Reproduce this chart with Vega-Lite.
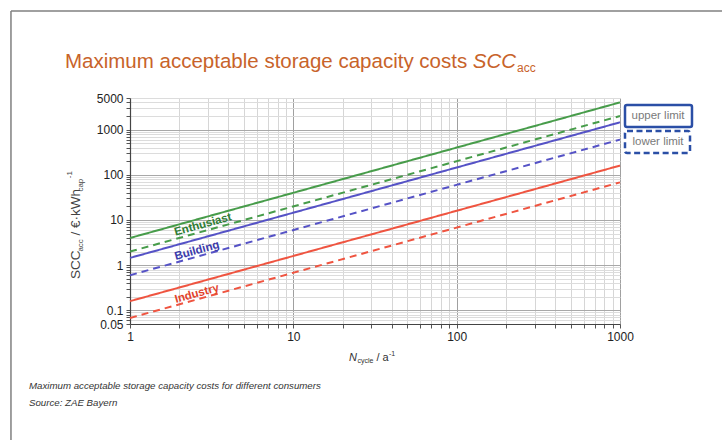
{
  "$schema": "https://vega.github.io/schema/vega-lite/v6.json",
  "width": 490,
  "height": 226,
  "autosize": {"type": "none"},
  "padding": {"left": 130, "top": 98, "right": 102, "bottom": 116},
  "background": "white",
  "config": {"font": "Liberation Sans", "view": {"stroke": null}},
  "datasets": {
    "lines": [
      {"consumer": "Enthusiast", "limit": "upper limit", "N": 1, "SCC": 4},
      {"consumer": "Enthusiast", "limit": "upper limit", "N": 1000, "SCC": 4000},
      {"consumer": "Enthusiast", "limit": "lower limit", "N": 1, "SCC": 2},
      {"consumer": "Enthusiast", "limit": "lower limit", "N": 1000, "SCC": 2000},
      {"consumer": "Building", "limit": "upper limit", "N": 1, "SCC": 1.45},
      {"consumer": "Building", "limit": "upper limit", "N": 1000, "SCC": 1450},
      {"consumer": "Building", "limit": "lower limit", "N": 1, "SCC": 0.6},
      {"consumer": "Building", "limit": "lower limit", "N": 1000, "SCC": 600},
      {"consumer": "Industry", "limit": "upper limit", "N": 1, "SCC": 0.16},
      {"consumer": "Industry", "limit": "upper limit", "N": 1000, "SCC": 160},
      {"consumer": "Industry", "limit": "lower limit", "N": 1, "SCC": 0.068},
      {"consumer": "Industry", "limit": "lower limit", "N": 1000, "SCC": 68}
    ]
  },
  "layer": [
    {
      "data": {"name": "lines"},
      "mark": {"type": "line", "strokeWidth": 2},
      "encoding": {
        "x": {
          "field": "N", "type": "quantitative",
          "scale": {"type": "log", "domain": [1, 1000], "nice": false},
          "axis": {
            "title": null,
            "values": [1,2,3,4,5,6,7,8,9,10,20,30,40,50,60,70,80,90,100,200,300,400,500,600,700,800,900,1000],
            "labelExpr": "(datum.value == 1 || datum.value == 10 || datum.value == 100 || datum.value == 1000) ? datum.value + '' : ''",
            "labelFlush": false, "labelOverlap": false,
            "labelFont": "Liberation Sans", "labelFontSize": 12, "labelColor": "#222222", "labelPadding": 3,
            "grid": true,
            "gridColor": {"condition": {"test": "datum.value == 1 || datum.value == 10 || datum.value == 100 || datum.value == 1000", "value": "#a0a0a0"}, "value": "#d6d6d6"},
            "tickSize": 4, "tickColor": "#555555", "domainColor": "#444444", "domainWidth": 1.2
          }
        },
        "y": {
          "field": "SCC", "type": "quantitative",
          "scale": {"type": "log", "domain": [0.05, 5000], "nice": false},
          "axis": {
            "title": null,
            "values": [0.05,0.06,0.07,0.08,0.09,0.1,0.2,0.3,0.4,0.5,0.6,0.7,0.8,0.9,1,2,3,4,5,6,7,8,9,10,20,30,40,50,60,70,80,90,100,200,300,400,500,600,700,800,900,1000,2000,3000,4000,5000],
            "labelExpr": "(datum.value == 0.05 || datum.value == 0.1 || datum.value == 1 || datum.value == 10 || datum.value == 100 || datum.value == 1000 || datum.value == 5000) ? datum.value + '' : ''",
            "labelFlush": false, "labelOverlap": false,
            "labelFont": "Liberation Sans", "labelFontSize": 12, "labelColor": "#222222", "labelPadding": 3,
            "grid": true,
            "gridColor": {"condition": {"test": "datum.value == 0.1 || datum.value == 1 || datum.value == 10 || datum.value == 100 || datum.value == 1000", "value": "#a8a8a8"}, "value": "#dcdcdc"},
            "tickSize": 4, "tickColor": "#555555", "domainColor": "#444444", "domainWidth": 1.2
          }
        },
        "color": {
          "field": "consumer", "type": "nominal",
          "scale": {"domain": ["Enthusiast", "Building", "Industry"], "range": ["#479c4a", "#5552c6", "#ef5440"]},
          "legend": null
        },
        "strokeDash": {
          "field": "limit", "type": "nominal",
          "scale": {"domain": ["upper limit", "lower limit"], "range": [[1, 0], [7, 5]]},
          "legend": null
        }
      }
    },
    {
      "data": {"values": [{}]},
      "mark": {"type": "rule", "stroke": "#808080", "strokeWidth": 1.5, "clip": false},
      "encoding": {
        "x": {"datum": 0.18673, "type": "quantitative", "scale": {"type": "log", "domain": [1, 1000], "nice": false}},
        "x2": {"datum": 4212},
        "y": {"datum": 420600, "type": "quantitative", "scale": {"type": "log", "domain": [0.05, 5000], "nice": false}}
      }
    },
    {
      "data": {"values": [{}]},
      "mark": {"type": "rule", "stroke": "#808080", "strokeWidth": 1.5, "clip": false},
      "encoding": {
        "x": {"datum": 0.18673, "type": "quantitative", "scale": {"type": "log", "domain": [1, 1000], "nice": false}},
        "y": {"datum": 420600, "type": "quantitative", "scale": {"type": "log", "domain": [0.05, 5000], "nice": false}},
        "y2": {"datum": 0.0001357}
      }
    },
    {
      "data": {"values": [{}]},
      "mark": {"type": "text", "text": "Maximum acceptable storage capacity costs", "font": "Liberation Sans", "fontSize": 20.5, "color": "#c8632a", "align": "left", "baseline": "alphabetic", "clip": false},
      "encoding": {
        "x": {"datum": 0.4, "type": "quantitative", "scale": {"type": "log", "domain": [1, 1000], "nice": false}},
        "y": {"datum": 23050, "type": "quantitative", "scale": {"type": "log", "domain": [0.05, 5000], "nice": false}}
      }
    },
    {
      "data": {"values": [{}]},
      "mark": {"type": "text", "text": "SCC", "font": "Liberation Sans", "fontSize": 20.5, "fontStyle": "italic", "color": "#c8632a", "align": "left", "baseline": "alphabetic", "clip": false},
      "encoding": {
        "x": {"datum": 125.4, "type": "quantitative", "scale": {"type": "log", "domain": [1, 1000], "nice": false}},
        "y": {"datum": 23050, "type": "quantitative", "scale": {"type": "log", "domain": [0.05, 5000], "nice": false}}
      }
    },
    {
      "data": {"values": [{}]},
      "mark": {"type": "text", "text": "acc", "font": "Liberation Sans", "fontSize": 12, "color": "#c8632a", "align": "left", "baseline": "alphabetic", "clip": false},
      "encoding": {
        "x": {"datum": 234.1, "type": "quantitative", "scale": {"type": "log", "domain": [1, 1000], "nice": false}},
        "y": {"datum": 18800, "type": "quantitative", "scale": {"type": "log", "domain": [0.05, 5000], "nice": false}}
      }
    },
    {
      "data": {"values": [{}]},
      "mark": {"type": "text", "text": "Enthusiast", "font": "Liberation Sans", "fontSize": 11.5, "fontWeight": "bold", "color": "#2f7d34", "angle": 344.5, "align": "center", "baseline": "middle"},
      "encoding": {
        "x": {"datum": 2.798, "type": "quantitative", "scale": {"type": "log", "domain": [1, 1000], "nice": false}},
        "y": {"datum": 7.75, "type": "quantitative", "scale": {"type": "log", "domain": [0.05, 5000], "nice": false}}
      }
    },
    {
      "data": {"values": [{}]},
      "mark": {"type": "text", "text": "Building", "font": "Liberation Sans", "fontSize": 11.5, "fontWeight": "bold", "color": "#3b3bab", "angle": 344.5, "align": "center", "baseline": "middle"},
      "encoding": {
        "x": {"datum": 2.572, "type": "quantitative", "scale": {"type": "log", "domain": [1, 1000], "nice": false}},
        "y": {"datum": 2.061, "type": "quantitative", "scale": {"type": "log", "domain": [0.05, 5000], "nice": false}}
      }
    },
    {
      "data": {"values": [{}]},
      "mark": {"type": "text", "text": "Industry", "font": "Liberation Sans", "fontSize": 11.5, "fontWeight": "bold", "color": "#e2432c", "angle": 344.5, "align": "center", "baseline": "middle"},
      "encoding": {
        "x": {"datum": 2.572, "type": "quantitative", "scale": {"type": "log", "domain": [1, 1000], "nice": false}},
        "y": {"datum": 0.2306, "type": "quantitative", "scale": {"type": "log", "domain": [0.05, 5000], "nice": false}}
      }
    },
    {
      "data": {"values": [{}]},
      "mark": {"type": "text", "text": "SCC", "font": "Liberation Sans", "fontSize": 13.5, "color": "#444444", "angle": 270, "align": "left", "baseline": "alphabetic", "clip": false},
      "encoding": {
        "x": {"datum": 0.4943, "type": "quantitative", "scale": {"type": "log", "domain": [1, 1000], "nice": false}},
        "y": {"datum": 0.4951, "type": "quantitative", "scale": {"type": "log", "domain": [0.05, 5000], "nice": false}}
      }
    },
    {
      "data": {"values": [{}]},
      "mark": {"type": "text", "text": "acc", "font": "Liberation Sans", "fontSize": 8, "color": "#444444", "angle": 270, "align": "left", "baseline": "alphabetic", "clip": false},
      "encoding": {
        "x": {"datum": 0.5158, "type": "quantitative", "scale": {"type": "log", "domain": [1, 1000], "nice": false}},
        "y": {"datum": 1.9985, "type": "quantitative", "scale": {"type": "log", "domain": [0.05, 5000], "nice": false}}
      }
    },
    {
      "data": {"values": [{}]},
      "mark": {"type": "text", "text": "/ €·kWh", "font": "Liberation Sans", "fontSize": 13.5, "color": "#444444", "angle": 270, "align": "left", "baseline": "alphabetic", "clip": false},
      "encoding": {
        "x": {"datum": 0.4943, "type": "quantitative", "scale": {"type": "log", "domain": [1, 1000], "nice": false}},
        "y": {"datum": 4.515, "type": "quantitative", "scale": {"type": "log", "domain": [0.05, 5000], "nice": false}}
      }
    },
    {
      "data": {"values": [{}]},
      "mark": {"type": "text", "text": "cap", "font": "Liberation Sans", "fontSize": 8, "color": "#444444", "angle": 270, "align": "left", "baseline": "alphabetic", "clip": false},
      "encoding": {
        "x": {"datum": 0.5158, "type": "quantitative", "scale": {"type": "log", "domain": [1, 1000], "nice": false}},
        "y": {"datum": 42.48, "type": "quantitative", "scale": {"type": "log", "domain": [0.05, 5000], "nice": false}}
      }
    },
    {
      "data": {"values": [{}]},
      "mark": {"type": "text", "text": "-1", "font": "Liberation Sans", "fontSize": 8, "color": "#444444", "angle": 270, "align": "left", "baseline": "alphabetic", "clip": false},
      "encoding": {
        "x": {"datum": 0.4415, "type": "quantitative", "scale": {"type": "log", "domain": [1, 1000], "nice": false}},
        "y": {"datum": 84.06, "type": "quantitative", "scale": {"type": "log", "domain": [0.05, 5000], "nice": false}}
      }
    },
    {
      "data": {"values": [{}]},
      "mark": {"type": "text", "text": "N", "font": "Liberation Sans", "fontSize": 11, "fontStyle": "italic", "color": "#333333", "align": "left", "baseline": "alphabetic", "clip": false},
      "encoding": {
        "x": {"datum": 21.92, "type": "quantitative", "scale": {"type": "log", "domain": [1, 1000], "nice": false}},
        "y": {"datum": 0.007595, "type": "quantitative", "scale": {"type": "log", "domain": [0.05, 5000], "nice": false}}
      }
    },
    {
      "data": {"values": [{}]},
      "mark": {"type": "text", "text": "cycle", "font": "Liberation Sans", "fontSize": 7, "color": "#333333", "align": "left", "baseline": "alphabetic", "clip": false},
      "encoding": {
        "x": {"datum": 24.71, "type": "quantitative", "scale": {"type": "log", "domain": [1, 1000], "nice": false}},
        "y": {"datum": 0.006686, "type": "quantitative", "scale": {"type": "log", "domain": [0.05, 5000], "nice": false}}
      }
    },
    {
      "data": {"values": [{}]},
      "mark": {"type": "text", "text": "/ a", "font": "Liberation Sans", "fontSize": 11, "color": "#333333", "align": "left", "baseline": "alphabetic", "clip": false},
      "encoding": {
        "x": {"datum": 32.3, "type": "quantitative", "scale": {"type": "log", "domain": [1, 1000], "nice": false}},
        "y": {"datum": 0.007595, "type": "quantitative", "scale": {"type": "log", "domain": [0.05, 5000], "nice": false}}
      }
    },
    {
      "data": {"values": [{}]},
      "mark": {"type": "text", "text": "-1", "font": "Liberation Sans", "fontSize": 7, "color": "#333333", "align": "left", "baseline": "alphabetic", "clip": false},
      "encoding": {
        "x": {"datum": 38.52, "type": "quantitative", "scale": {"type": "log", "domain": [1, 1000], "nice": false}},
        "y": {"datum": 0.009795, "type": "quantitative", "scale": {"type": "log", "domain": [0.05, 5000], "nice": false}}
      }
    },
    {
      "data": {"values": [{}]},
      "mark": {"type": "rect", "fill": "white", "stroke": "#2b4fa6", "strokeWidth": 2.5, "cornerRadius": 2, "clip": false},
      "encoding": {
        "x": {"datum": 1073, "type": "quantitative", "scale": {"type": "log", "domain": [1, 1000], "nice": false}},
        "x2": {"datum": 2759},
        "y": {"datum": 3500, "type": "quantitative", "scale": {"type": "log", "domain": [0.05, 5000], "nice": false}},
        "y2": {"datum": 1141}
      }
    },
    {
      "data": {"values": [{}]},
      "mark": {"type": "rect", "fill": "white", "stroke": "#2b4fa6", "strokeWidth": 2.5, "strokeDash": [6, 3.5], "cornerRadius": 2, "clip": false},
      "encoding": {
        "x": {"datum": 1073, "type": "quantitative", "scale": {"type": "log", "domain": [1, 1000], "nice": false}},
        "x2": {"datum": 2683},
        "y": {"datum": 930.9, "type": "quantitative", "scale": {"type": "log", "domain": [0.05, 5000], "nice": false}},
        "y2": {"datum": 303.5}
      }
    },
    {
      "data": {"values": [{}]},
      "mark": {"type": "text", "text": "upper limit", "font": "Liberation Sans", "fontSize": 11.5, "color": "#7a7a7a", "align": "center", "baseline": "middle", "clip": false},
      "encoding": {
        "x": {"datum": 1709, "type": "quantitative", "scale": {"type": "log", "domain": [1, 1000], "nice": false}},
        "y": {"datum": 1999, "type": "quantitative", "scale": {"type": "log", "domain": [0.05, 5000], "nice": false}}
      }
    },
    {
      "data": {"values": [{}]},
      "mark": {"type": "text", "text": "lower limit", "font": "Liberation Sans", "fontSize": 11.5, "color": "#7a7a7a", "align": "center", "baseline": "middle", "clip": false},
      "encoding": {
        "x": {"datum": 1709, "type": "quantitative", "scale": {"type": "log", "domain": [1, 1000], "nice": false}},
        "y": {"datum": 531.7, "type": "quantitative", "scale": {"type": "log", "domain": [0.05, 5000], "nice": false}}
      }
    },
    {
      "data": {"values": [{}]},
      "mark": {"type": "text", "text": "Maximum acceptable storage capacity costs for different consumers", "font": "Liberation Sans", "fontSize": 9.7, "fontStyle": "italic", "color": "#333333", "align": "left", "baseline": "alphabetic", "clip": false},
      "encoding": {
        "x": {"datum": 0.2407, "type": "quantitative", "scale": {"type": "log", "domain": [1, 1000], "nice": false}},
        "y": {"datum": 0.001824, "type": "quantitative", "scale": {"type": "log", "domain": [0.05, 5000], "nice": false}}
      }
    },
    {
      "data": {"values": [{}]},
      "mark": {"type": "text", "text": "Source: ZAE Bayern", "font": "Liberation Sans", "fontSize": 9.7, "fontStyle": "italic", "color": "#333333", "align": "left", "baseline": "alphabetic", "clip": false},
      "encoding": {
        "x": {"datum": 0.2407, "type": "quantitative", "scale": {"type": "log", "domain": [1, 1000], "nice": false}},
        "y": {"datum": 0.000767, "type": "quantitative", "scale": {"type": "log", "domain": [0.05, 5000], "nice": false}}
      }
    }
  ]
}
